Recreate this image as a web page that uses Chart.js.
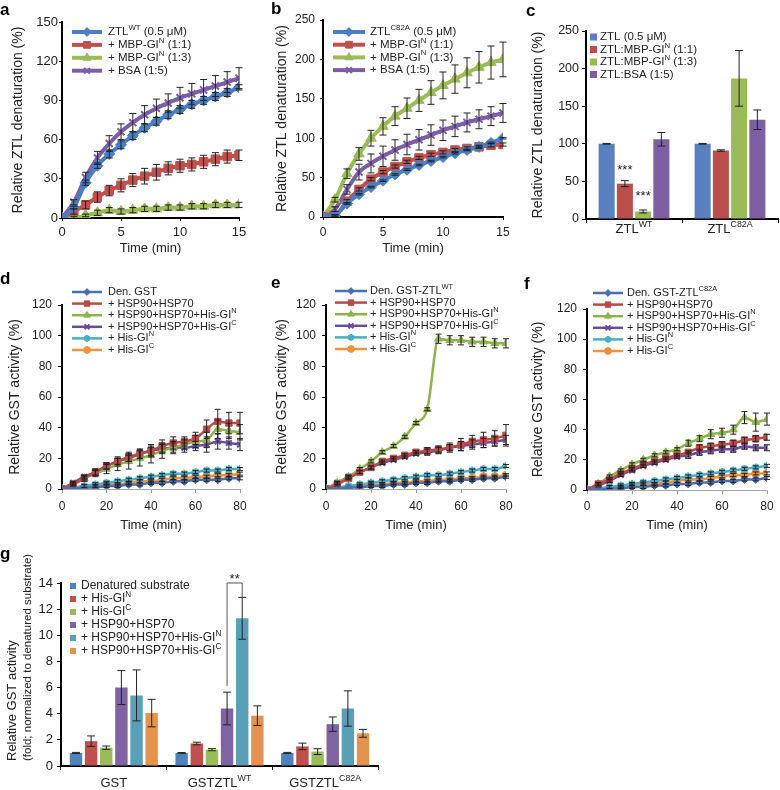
<!DOCTYPE html>
<html><head><meta charset="utf-8">
<script src="https://cdn.jsdelivr.net/npm/chart.js@4.4.1/dist/chart.umd.min.js"></script>
<style>
body{margin:0;background:#fff;width:780px;height:790px;position:relative;overflow:hidden}
canvas{position:absolute}
</style></head><body>
<canvas id="ca" width="258" height="256" style="left:0;top:0"></canvas>
<canvas id="cb" width="262" height="256" style="left:258px;top:0"></canvas>
<canvas id="cc" width="260" height="256" style="left:520px;top:0"></canvas>
<canvas id="cd" width="258" height="279" style="left:0;top:256px"></canvas>
<canvas id="ce" width="262" height="279" style="left:258px;top:256px"></canvas>
<canvas id="cf" width="260" height="279" style="left:520px;top:256px"></canvas>
<canvas id="cg" width="400" height="255" style="left:0;top:535px"></canvas>
<script>
// ================= DATA =================
const timeShort = [0,1,2,3,4,5,6,7,8,9,10,11,12,13,14,15];
const timeLong  = [0,5,10,15,20,25,30,35,40,45,50,55,60,65,70,75,80];

// panel a
const aLabels = ['ZTL^{WT} (0.5 μM)','+ MBP-GI^{N} (1:1)','+ MBP-GI^{N} (1:3)','+ BSA (1:5)'];
const aZtl     = [0,8,27,40,49,56,63,69,74,79,83,87,90,93,96,100];
const aZtlErr  = [0,1,2,2,3,3,3,3,3,3,3,3,3,3,3,2];
const aGiN11   = [0,5,10,16,21,25,29,32,35,38,40,41,43,45,47,48];
const aGiN11Err= [0,2,3,4,4,5,5,6,6,5,5,5,5,5,5,4];
const aGiN13   = [0,0,2,4,6,5,6,7,7,8,8,9,9,10,10,10];
const aGiN13Err= [0,1,1,2,2,2,2,2,2,2,2,2,2,2,2,2];
const aBsa     = [0,12,31,46,57,66,73,79,84,88,92,95,98,101,104,107];
const aBsaErr  = [0,2,4,5,6,6,7,7,7,7,8,8,8,8,8,8];

// panel b
const bLabels = ['ZTL^{C82A} (0.5 μM)','+ MBP-GI^{N} (1:1)','+ MBP-GI^{N} (1:3)','+ BSA (1:5)'];
const bZtl     = [0,2,17,29,38,46,54,60,66,71,76,81,85,89,94,100];
const bZtlErr  = [0,1,1,1,1,1,1,1,1,1,1,1,1,1,1,1];
const bGiN11   = [0,2,20,35,48,57,64,70,75,79,82,85,87,89,91,92];
const bGiN11Err= [0,1,2,2,2,2,2,2,2,2,2,2,2,2,2,2];
const bGiN13   = [0,22,55,80,100,115,128,138,148,158,167,175,183,190,196,200];
const bGiN13Err= [0,3,6,8,10,11,12,13,14,15,17,18,19,20,21,22];
const bBsa     = [0,10,35,57,68,77,85,92,98,104,110,115,120,124,128,132];
const bBsaErr  = [0,3,6,10,12,13,13,13,13,13,13,13,12,12,12,12];

// panel c
const cCategories = ['ZTL^{WT}','ZTL^{C82A}'];
const cLabels = ['ZTL (0.5 μM)','ZTL:MBP-GI^{N} (1:1)','ZTL:MBP-GI^{N} (1:3)','ZTL:BSA (1:5)'];
const cZtl = [100,100],  cZtlErr = [0.5,0.5];
const cGiN11 = [47,91],  cGiN11Err = [4,1];
const cGiN13 = [10,187], cGiN13Err = [2,37];
const cBsa = [106,132],  cBsaErr = [9,13];

// panels d, e, f
const dLabels = ['Den. GST','+ HSP90+HSP70','+ HSP90+HSP70+His-GI^{N}','+ HSP90+HSP70+His-GI^{C}','+ His-GI^{N}','+ His-GI^{C}'];
const dDen  = [0,0,1,1,2,2,3,3,4,4,5,5,6,6,6,7,7];
const dHsp  = [0,3,7,11,15,18,21,23,25,28,30,31,33,39,44,43,43];
const dHspN = [0,3,7,10,13,16,18,20,22,25,27,29,31,32,39,38,37];
const dHspC = [0,4,8,11,15,18,20,23,25,26,27,27,28,29,31,30,29];
const dGiN  = [0,1,2,3,4,5,6,7,8,9,10,10,11,12,12,13,13];
const dGiC  = [0,0,1,2,3,3,4,5,5,6,7,7,8,8,9,9,10];
const dDenErr  = [0,0,0,0,1,1,1,1,1,1,1,1,1,1,1,1,1];
const dHspErr  = [0,1,1,2,2,3,3,3,4,4,4,3,4,6,8,7,7];
const dHspNErr = [0,1,2,2,3,4,5,5,5,5,4,3,4,5,6,5,5];
const dHspCErr = [0,1,1,2,2,2,2,3,3,3,3,3,3,5,5,4,4];
const dGiNErr  = [0,0,1,1,1,1,1,1,1,1,1,1,1,1,1,1,1];
const dGiCErr  = [0,0,0,1,1,1,1,1,1,1,1,1,1,1,1,1,1];

const eLabels = ['Den. GST-ZTL^{WT}','+ HSP90+HSP70','+ HSP90+HSP70+His-GI^{N}','+ HSP90+HSP70+His-GI^{C}','+ His-GI^{N}','+ His-GI^{C}'];
const eDen  = [0,0,1,1,2,2,3,3,4,4,5,5,6,6,7,7,8];
const eHsp  = [0,3,7,11,14,18,20,22,24,25,26,27,29,31,32,33,35];
const eHspN = [0,4,8,13,18,24,28,34,43,52,98,97,97,96,96,95,95];
const eHspC = [0,4,8,11,14,17,19,21,23,24,25,27,28,29,30,31,32];
const eGiN  = [0,1,2,3,4,5,6,7,8,9,9,10,11,12,13,13,15];
const eGiC  = [0,0,1,2,3,3,4,4,5,5,6,6,7,7,8,8,9];
const eDenErr  = [0,0,0,1,1,1,1,1,1,1,1,1,1,1,1,1,1];
const eHspErr  = [0,1,1,1,1,1,1,1,1,2,2,3,4,4,5,5,7];
const eHspNErr = [0,1,1,1,1,1,1,1,1,1,3,3,3,3,3,3,3];
const eHspCErr = [0,1,1,1,1,1,1,1,1,2,2,2,3,3,3,3,3];
const eGiNErr  = [0,0,0,1,1,1,1,1,1,1,1,1,1,1,1,1,1];
const eGiCErr  = [0,0,0,1,1,1,1,1,1,1,1,1,1,1,1,1,1];

const fLabels = ['Den. GST-ZTL^{C82A}','+ HSP90+HSP70','+ HSP90+HSP70+His-GI^{N}','+ HSP90+HSP70+His-GI^{C}','+ His-GI^{N}','+ His-GI^{C}'];
const fDen  = [0,0,1,1,2,2,3,3,4,4,5,5,6,6,7,7,8];
const fHsp  = [0,4,7,11,14,17,19,21,23,25,28,29,30,31,33,34,35];
const fHspN = [0,4,9,13,17,20,23,25,27,31,34,37,38,40,48,45,47];
const fHspC = [0,3,6,10,13,16,18,20,22,23,25,26,27,27,29,28,28];
const fGiN  = [0,1,2,3,4,5,6,7,8,9,10,11,12,13,14,15,16];
const fGiC  = [0,0,1,2,3,4,4,5,6,7,7,8,9,10,10,11,11];
const fDenErr  = [0,0,0,1,1,1,1,1,1,1,1,1,1,1,1,1,1];
const fHspErr  = [0,1,1,1,1,1,1,1,1,1,2,2,2,2,2,2,2];
const fHspNErr = [0,1,1,1,1,1,1,1,1,2,2,3,3,3,4,6,4];
const fHspCErr = [0,1,1,1,1,1,1,1,1,2,2,2,2,2,2,2,2];
const fGiNErr  = [0,0,1,1,1,1,1,1,1,1,1,1,1,1,1,1,1];
const fGiCErr  = [0,0,0,1,1,1,1,1,1,1,1,1,1,1,1,1,1];

// panel g
const gCategories = ['GST','GSTZTL^{WT}','GSTZTL^{C82A}'];
const gLabels = ['Denatured substrate','+ His-GI^{N}','+ His-GI^{C}','+ HSP90+HSP70','+ HSP90+HSP70+His-GI^{N}','+ HSP90+HSP70+His-GI^{C}'];
const gDen  = [1.0,1.0,1.0],   gDenErr  = [0.04,0.03,0.04];
const gGiN  = [1.9,1.72,1.5],  gGiNErr  = [0.4,0.1,0.25];
const gGiC  = [1.4,1.25,1.1],  gGiCErr  = [0.13,0.08,0.22];
const gHsp  = [6.0,4.4,3.2],   gHspErr  = [1.3,1.25,0.55];
const gHspN = [5.4,11.3,4.4],  gHspNErr = [1.95,1.6,1.35];
const gHspC = [4.05,3.85,2.5], gHspCErr = [1.05,0.75,0.3];

// ================= HELPERS =================
const FONT = '"Liberation Sans", Arial, Helvetica, sans-serif';
Chart.defaults.font.family = FONT;
Chart.defaults.font.weight = 'normal';
Chart.defaults.color = '#222';
Chart.defaults.animation = false;
const H = Chart.helpers;

function richParts(s){
  const out=[]; const re=/\^\{([^}]*)\}/g; let last=0, m;
  while((m=re.exec(s))){ if(m.index>last) out.push([s.slice(last,m.index),false]); out.push([m[1],true]); last=re.lastIndex; }
  if(last<s.length) out.push([s.slice(last),false]);
  return out;
}
function drawRich(ctx, s, x, y, size, align, color){
  const parts=richParts(s); const ss=size*0.68;
  let w=0;
  parts.forEach(p=>{ ctx.font='normal '+(p[1]?ss:size)+'px '+FONT; w+=ctx.measureText(p[0]).width; });
  let cx = align==='center' ? x-w/2 : (align==='right' ? x-w : x);
  ctx.save(); ctx.fillStyle=color||'#222'; ctx.textBaseline='middle'; ctx.textAlign='left';
  parts.forEach(p=>{ const fs=p[1]?ss:size; ctx.font='normal '+fs+'px '+FONT; ctx.fillText(p[0], cx, p[1]? y-size*0.36 : y); cx+=ctx.measureText(p[0]).width; });
  ctx.restore();
}

const errPlugin = {
  id:'errbars',
  afterDatasetsDraw(chart){
    const o = chart.options.plugins.errbars || {}; const ctx=chart.ctx; const ys=chart.scales.y;
    const cap = o.cap || 3;
    chart.data.datasets.forEach((ds,i)=>{
      if(!ds.errors) return; const meta=chart.getDatasetMeta(i);
      meta.data.forEach((el,j)=>{
        const e=ds.errors[j]; if(!e) return;
        const raw=ds.data[j]; const v=(typeof raw==='object')?raw.y:raw;
        const x=el.x, yt=ys.getPixelForValue(v+e), yb=ys.getPixelForValue(Math.max(v-e, ys.min));
        ctx.save(); ctx.strokeStyle=o.color||'#222'; ctx.lineWidth=1; ctx.beginPath();
        ctx.moveTo(x,yt); ctx.lineTo(x,yb);
        ctx.moveTo(x-cap,yt); ctx.lineTo(x+cap,yt);
        if(v-e>ys.min){ ctx.moveTo(x-cap,yb); ctx.lineTo(x+cap,yb); }
        ctx.stroke(); ctx.restore();
      });
    });
  }
};

const decoPlugin = {
  id:'deco',
  afterDraw(chart){
    const o = chart.options.plugins.deco; if(!o) return; const ctx=chart.ctx;
    if(o.letter){ ctx.save(); ctx.font='bold 17px '+FONT; ctx.fillStyle='#000'; ctx.textBaseline='middle'; ctx.textAlign='left'; ctx.fillText(o.letter.text,o.letter.x,o.letter.y); ctx.restore(); }
    if(o.legend){
      const L=o.legend;
      chart.data.datasets.forEach((ds,i)=>{
        const y=L.y+i*L.rowH; ctx.save();
        if(L.kind==='line'){
          ctx.strokeStyle=ds.borderColor; ctx.lineWidth=ds.borderWidth; ctx.beginPath(); ctx.moveTo(L.x0,y); ctx.lineTo(L.x1,y); ctx.stroke();
          ctx.fillStyle=ds.pointBackgroundColor; ctx.strokeStyle=ds.pointBorderColor; ctx.lineWidth=ds.pointBorderWidth;
          H.drawPoint(ctx,{pointStyle:ds.pointStyle, radius:ds.pointRadius*(L.ms||1), borderWidth:ds.pointBorderWidth, rotation:0},(L.x0+L.x1)/2,y);
        } else {
          ctx.fillStyle=ds.backgroundColor; ctx.fillRect(L.x0, y-L.box/2, L.box, L.box);
        }
        ctx.restore();
        drawRich(ctx, ds.label, L.tx, y, L.size, 'left', '#222');
      });
    }
    if(o.cats){
      const xs=chart.scales.x;
      chart.data.labels.forEach((lab,i)=>{ drawRich(ctx, lab, xs.getPixelForValue(i), o.cats.y, o.cats.size, 'center', '#222'); });
    }
    if(o.yTitles){
      o.yTitles.forEach(t=>{ ctx.save(); ctx.translate(t.x,t.y); ctx.rotate(-Math.PI/2); drawRich(ctx,t.text,0,0,t.size,'left','#222'); ctx.restore(); });
    }
    if(o.stars){
      const ys=chart.scales.y;
      o.stars.forEach(s=>{
        const ds=chart.data.datasets[s.ds]; const el=chart.getDatasetMeta(s.ds).data[s.idx];
        const y=ys.getPixelForValue(ds.data[s.idx]+ds.errors[s.idx])+s.dy;
        ctx.save(); ctx.font='normal 13px '+FONT; ctx.fillStyle='#222'; ctx.textAlign='center'; ctx.textBaseline='middle'; ctx.fillText(s.text, el.x, y); ctx.restore();
      });
    }
    if(o.bracket){
      const b=o.bracket, ys=chart.scales.y;
      const dA=chart.data.datasets[b.dsA], dB=chart.data.datasets[b.dsB];
      const xa=chart.getDatasetMeta(b.dsA).data[b.idx].x, xb=chart.getDatasetMeta(b.dsB).data[b.idx].x;
      const ya=ys.getPixelForValue(dA.data[b.idx]+dA.errors[b.idx])-b.gap;
      const yb=ys.getPixelForValue(dB.data[b.idx]+dB.errors[b.idx]);
      const yt=ys.getPixelForValue(ys.max);
      ctx.save(); ctx.strokeStyle='#555'; ctx.lineWidth=1; ctx.beginPath();
      ctx.moveTo(xa,ya); ctx.lineTo(xa,yt); ctx.lineTo(xb,yt); ctx.lineTo(xb,yb); ctx.stroke();
      ctx.font='normal 13px '+FONT; ctx.fillStyle='#222'; ctx.textAlign='center'; ctx.textBaseline='middle';
      ctx.fillText(b.text,(xa+xb)/2, yt-4); ctx.restore();
    }
  }
};
Chart.register(errPlugin, decoPlugin);

function axisX(o){
  return {
    type:o.type||'linear', min:o.min, max:o.max, offset:!!o.offset,
    ticks:{display:o.showTicks!==false, stepSize:o.step, font:{size:o.fs||12, weight:'normal'}, padding:o.pad, color:'#222', maxRotation:0, autoSkip:false},
    grid:{display:true, drawOnChartArea:false, drawTicks:true, tickLength:o.tl||4, color:o.gc||'#000', offset:!!o.offset},
    border:{display:true, color:o.bc||'#000', width:o.bw||2},
    title:{display:!!o.title, text:o.title, font:{size:13, weight:'normal'}, color:'#222', padding:{top:0,bottom:o.tp||0}},
    afterFit:s=>{ s.height=o.h; }
  };
}
function axisY(o){
  return {
    min:o.min, max:o.max,
    ticks:{stepSize:o.step, font:{size:o.fs||12, weight:'normal'}, padding:o.pad, color:'#222'},
    grid:{display:true, drawOnChartArea:false, drawTicks:true, tickLength:o.tl||4, color:'#000'},
    border:{display:true, color:'#000', width:2},
    title:{display:!!o.title, text:o.title, font:{size:14, weight:'normal'}, color:'#222', padding:{top:o.tp||0,bottom:0}},
    afterFit:s=>{ s.width=o.w; }
  };
}
function lineDs(label, xs, ys, errs, color, shape, r, lw){
  const stroked = (shape==='crossRot'||shape==='star');
  return {
    label, data: xs.map((x,i)=>({x:x, y:ys[i]})), errors: errs,
    borderColor:color, backgroundColor:color, pointBackgroundColor:color, pointBorderColor:color,
    pointStyle:shape, pointRadius:r, pointBorderWidth: stroked?2:1, borderWidth:lw,
    cubicInterpolationMode:'monotone'
  };
}
function barDs(label, vals, errs, color){
  return {label, data:vals, errors:errs, backgroundColor:color, borderWidth:0};
}

// colours
const A = {blue:'#4a7ec4', red:'#c0504d', green:'#9bbb59', purple:'#7b5ea7'};
const D = {blue:'#4a6fae', red:'#b84a47', green:'#8db34e', purple:'#6a4c9c', cyan:'#4bacc6', orange:'#f0913d'};
const G = {blue:'#4f81bd', red:'#c0504d', green:'#9bbb59', purple:'#8064a2', cyan:'#5a9fb8', orange:'#e39250'};

function baseOpts(extra){
  return Object.assign({responsive:false, animation:false, events:[]}, extra);
}

// ---------- panel a ----------
new Chart(document.getElementById('ca'), {
  type:'line',
  data:{datasets:[
    lineDs(aLabels[0], timeShort, aZtl, aZtlErr, A.blue, 'rectRot', 5.5, 4),
    lineDs(aLabels[1], timeShort, aGiN11, aGiN11Err, A.red, 'rect', 6, 4),
    lineDs(aLabels[2], timeShort, aGiN13, aGiN13Err, A.green, 'triangle', 6, 4),
    lineDs(aLabels[3], timeShort, aBsa, aBsaErr, A.purple, 'crossRot', 5, 4)
  ]},
  options: baseOpts({
    layout:{padding:{top:22,right:19,left:0,bottom:0}},
    scales:{
      x: axisX({min:0,max:15,step:5,fs:13,pad:4,tl:3,h:38,title:'Time (min)',tp:0}),
      y: axisY({min:0,max:150,step:30,fs:13,pad:1,tl:3,w:62,title:'Relative ZTL denaturation (%)',tp:9.6})
    },
    plugins:{legend:{display:false}, tooltip:{enabled:false}, errbars:{cap:3.5},
      deco:{letter:{text:'a',x:0,y:10}, legend:{kind:'line',x0:72,x1:102,tx:108,y:32,rowH:12.9,size:11.5,ms:0.8}}}
  })
});

// ---------- panel b ----------
new Chart(document.getElementById('cb'), {
  type:'line',
  data:{datasets:[
    lineDs(bLabels[0], timeShort, bZtl, bZtlErr, A.blue, 'rectRot', 5.5, 4),
    lineDs(bLabels[1], timeShort, bGiN11, bGiN11Err, A.red, 'rect', 6, 4),
    lineDs(bLabels[2], timeShort, bGiN13, bGiN13Err, A.green, 'triangle', 6, 4),
    lineDs(bLabels[3], timeShort, bBsa, bBsaErr, A.purple, 'crossRot', 5, 4)
  ]},
  options: baseOpts({
    layout:{padding:{top:20,right:17,left:0,bottom:0}},
    scales:{
      x: axisX({min:0,max:15,step:5,fs:12,pad:5,tl:3,h:39,title:'Time (min)',tp:0}),
      y: axisY({min:0,max:250,step:50,fs:12,pad:5,tl:3,w:65,title:'Relative ZTL denaturation (%)',tp:15.6})
    },
    plugins:{legend:{display:false}, tooltip:{enabled:false}, errbars:{cap:3.5},
      deco:{letter:{text:'b',x:13,y:9}, legend:{kind:'line',x0:75,x1:107,tx:112,y:32,rowH:12.7,size:11.5,ms:0.8}}}
  })
});

// ---------- panel c ----------
new Chart(document.getElementById('cc'), {
  type:'bar',
  data:{labels:cCategories, datasets:[
    barDs(cLabels[0], cZtl, cZtlErr, '#5a7fbf'),
    barDs(cLabels[1], cGiN11, cGiN11Err, '#b94e4b'),
    barDs(cLabels[2], cGiN13, cGiN13Err, '#9bbb59'),
    barDs(cLabels[3], cBsa, cBsaErr, '#7d60a2')
  ]},
  options: baseOpts({
    layout:{padding:{top:31,right:2,left:0,bottom:0}},
    datasets:{bar:{categoryPercentage:0.76, barPercentage:0.88}},
    scales:{
      x: axisX({type:'category',offset:true,showTicks:false,tl:4,h:37}),
      y: axisY({min:0,max:250,step:50,fs:12.5,pad:3,tl:4,w:66,title:'Relative ZTL denaturation (%)',tp:9.6})
    },
    plugins:{legend:{display:false}, tooltip:{enabled:false}, errbars:{cap:4},
      deco:{letter:{text:'c',x:6,y:11}, cats:{y:229,size:13},
        legend:{kind:'box',x0:70,box:7,tx:80,y:37,rowH:12.5,size:11.5},
        stars:[{ds:1,idx:0,text:'***',dy:-10},{ds:2,idx:0,text:'***',dy:-14}]}}
  })
});

// ---------- panels d, e, f ----------
function gstPanel(id, labels, series, errs, o){
  return new Chart(document.getElementById(id), {
    type:'line',
    data:{datasets:[
      lineDs(labels[0], timeLong, series[0], errs[0], D.blue, 'rectRot', 4, 2.5),
      lineDs(labels[1], timeLong, series[1], errs[1], D.red, 'rect', 4.5, 2.5),
      lineDs(labels[2], timeLong, series[2], errs[2], D.green, 'triangle', 4.5, 2.5),
      lineDs(labels[3], timeLong, series[3], errs[3], D.purple, 'crossRot', 4, 2.5),
      lineDs(labels[4], timeLong, series[4], errs[4], D.cyan, 'star', 4, 2.5),
      lineDs(labels[5], timeLong, series[5], errs[5], D.orange, 'circle', 4, 2.5)
    ]},
    options: baseOpts({
      layout:{padding:{top:o.top,right:o.right,left:0,bottom:0}},
      scales:{
        x: axisX({min:0,max:80,step:20,fs:12,pad:o.xpad,tl:4,h:o.xh,title:'Time (min)',tp:2.2,bc:'#aaa',bw:1,gc:'#999'}),
        y: axisY({min:0,max:120,step:20,fs:12,pad:6,tl:4,w:o.yw,title:'Relative GST activity (%)',tp:o.ytp})
      },
      plugins:{legend:{display:false}, tooltip:{enabled:false}, errbars:{cap:3},
        deco:{letter:o.letter, legend:{kind:'line',x0:o.lx0,x1:o.lx1,tx:o.ltx,y:o.ly,rowH:11.6,size:11,ms:0.85}}}
    })
  });
}
gstPanel('cd', dLabels, [dDen,dHsp,dHspN,dHspC,dGiN,dGiC], [dDenErr,dHspErr,dHspNErr,dHspCErr,dGiNErr,dGiCErr],
  {top:49,right:18,xh:46,xpad:6.8,yw:62,ytp:6.6,letter:{text:'d',x:0,y:23},lx0:72,lx1:102,ltx:108,ly:36});
gstPanel('ce', eLabels, [eDen,eHsp,eHspN,eHspC,eGiN,eGiC], [eDenErr,eHspErr,eHspNErr,eHspCErr,eGiNErr,eGiCErr],
  {top:49,right:14,xh:46,xpad:6.8,yw:68,ytp:15.6,letter:{text:'e',x:13,y:27},lx0:77,lx1:109,ltx:112,ly:35});
gstPanel('cf', fLabels, [fDen,fHsp,fHspN,fHspC,fGiN,fGiC], [fDenErr,fHspErr,fHspNErr,fHspCErr,fGiNErr,fGiCErr],
  {top:53,right:13,xh:45,xpad:5.8,yw:67,ytp:9.6,letter:{text:'f',x:4,y:28},lx0:73,lx1:103,ltx:107,ly:37});

// ---------- panel g ----------
new Chart(document.getElementById('cg'), {
  type:'bar',
  data:{labels:gCategories, datasets:[
    barDs(gLabels[0], gDen, gDenErr, G.blue),
    barDs(gLabels[1], gGiN, gGiNErr, G.red),
    barDs(gLabels[2], gGiC, gGiCErr, G.green),
    barDs(gLabels[3], gHsp, gHspErr, G.purple),
    barDs(gLabels[4], gHspN, gHspNErr, G.cyan),
    barDs(gLabels[5], gHspC, gHspCErr, G.orange)
  ]},
  options: baseOpts({
    layout:{padding:{top:48,right:22,left:0,bottom:0}},
    datasets:{bar:{categoryPercentage:0.86, barPercentage:0.82}},
    scales:{
      x: axisX({type:'category',offset:true,showTicks:false,tl:4,h:24}),
      y: axisY({min:0,max:14,step:2,fs:13,pad:4,tl:4,w:61})
    },
    plugins:{legend:{display:false}, tooltip:{enabled:false}, errbars:{cap:4},
      deco:{letter:{text:'g',x:0,y:19}, cats:{y:248,size:13},
        legend:{kind:'box',x0:70,box:6,tx:81,y:51,rowH:13,size:12},
        yTitles:[{text:'Relative GST activity',x:12,y:226,size:13},{text:'(fold; normalized to denatured substrate)',x:28,y:226,size:11.5}],
        bracket:{dsA:3,dsB:4,idx:1,gap:6,text:'**'}}}
  })
});
</script>
</body></html>
